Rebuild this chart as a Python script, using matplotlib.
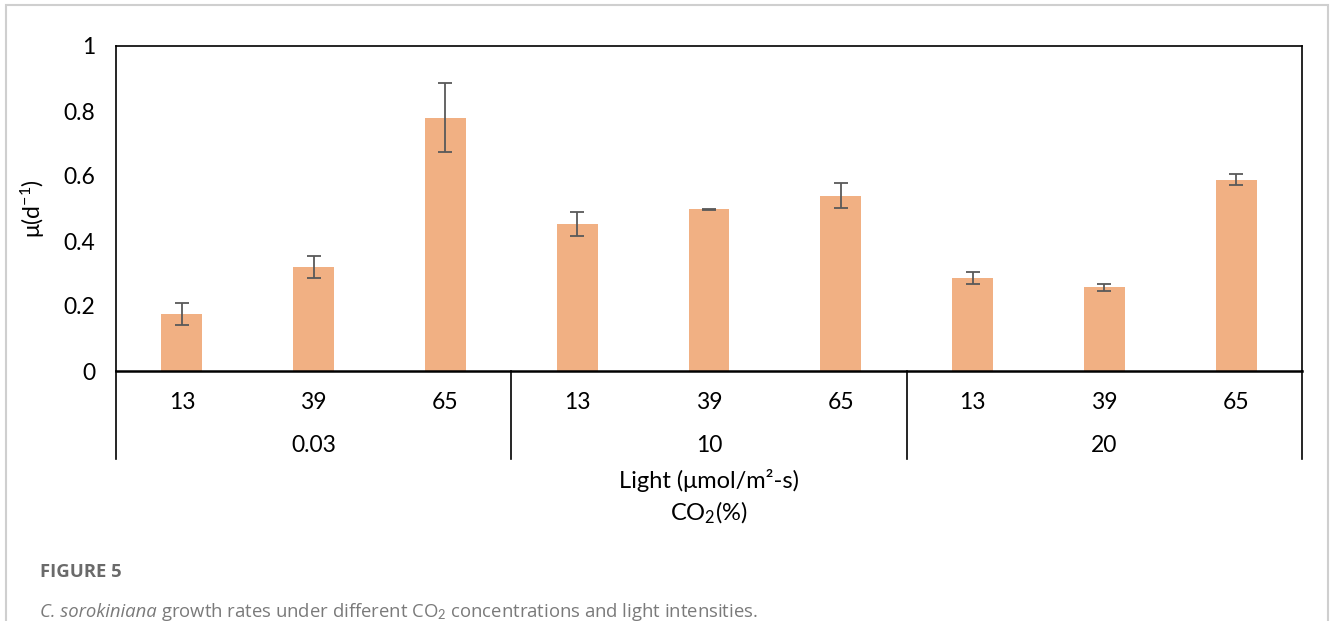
import matplotlib
matplotlib.use('Agg')
import matplotlib.pyplot as plt
import matplotlib.transforms as mtransforms
from matplotlib.patches import Rectangle

# data
co2_groups = ['0.03', '10', '20']
light_levels = ['13', '39', '65']
growth = [0.176, 0.320, 0.780,
          0.452, 0.497, 0.540,
          0.286, 0.257, 0.589]
errors = [0.033, 0.035, 0.107,
          0.037, 0.001, 0.038,
          0.018, 0.010, 0.018]

plt.rcParams['font.family'] = ['Lato', 'DejaVu Sans']
plt.rcParams['mathtext.fontset'] = 'custom'
plt.rcParams['mathtext.rm'] = 'Lato'
plt.rcParams['mathtext.it'] = 'Lato:italic'

W, H = 1330, 621
FS = 16.5
fig = plt.figure(figsize=(W / 100, H / 100), dpi=100)
ax = fig.add_axes([116 / W, 1 - 371 / H, 1186 / W, 325 / H])

x = list(range(len(growth)))
ax.bar(x, growth, width=0.31, color='#F1B083', zorder=2)
ax.errorbar(x, growth, yerr=errors, fmt='none', ecolor='#595959',
            elinewidth=1.3, capsize=5, capthick=1.3, zorder=3)

ax.set_xlim(-0.5, len(growth) - 0.5)
ax.set_ylim(0, 1)
ax.set_yticks([0, 0.2, 0.4, 0.6, 0.8, 1])
ax.set_yticklabels(['0', '0.2', '0.4', '0.6', '0.8', '1'])
ax.tick_params(axis='y', length=0, pad=15, labelsize=FS)
ax.set_xticks(x)
ax.set_xticklabels(light_levels * len(co2_groups))
ax.tick_params(axis='x', length=0, pad=15, labelsize=FS)
for s in ax.spines.values():
    s.set_color('black')
    s.set_linewidth(1.2)
ax.spines['bottom'].set_linewidth(1.8)

ax.set_ylabel(r'μ(d$^{\mathregular{-1}}$)', fontsize=FS, labelpad=12)

# second level of category labels and separators
trans = mtransforms.blended_transform_factory(ax.transData, ax.transAxes)
drop = -(459 - 371) / 325
n = len(light_levels)
for i, g in enumerate(co2_groups):
    ax.text(i * n + (n - 1) / 2, -(445 - 371) / 325, g, transform=trans,
            ha='center', va='center', fontsize=FS)
for i in range(len(co2_groups) + 1):
    ax.plot([i * n - 0.5, i * n - 0.5], [0, drop], transform=trans,
            color='black', lw=1.2, clip_on=False)

fig.text(709 / W, 1 - 480 / H, 'Light (μmol/m²-s)', ha='center', va='center',
         fontsize=17)
fig.text(709 / W, 1 - 513 / H, r'CO$_2$(%)', ha='center', va='center',
         fontsize=17)

# caption
fig.text(40 / W, 1 - 572 / H, 'FIGURE 5', ha='left', va='center',
         fontsize=13.3, fontweight='bold', color='#6a6a6a', family='Open Sans')
cap1 = fig.text(40 / W, 1 - 612 / H, 'C. sorokiniana', ha='left', va='center',
                fontsize=13.3, style='italic', color='#7a7a7a', family='Open Sans')
fig.canvas.draw()
bb = cap1.get_window_extent()
fig.text(bb.x1 / W + 4 / W, 1 - 612 / H,
         r'growth rates under different CO$_2$ concentrations and light intensities.',
         ha='left', va='center', fontsize=13.3, color='#7a7a7a', family='Open Sans')

# light frame around the whole figure
fig.patches.append(Rectangle((6 / W, -0.05), 1322 / W, 1.05 - 5 / H,
                             transform=fig.transFigure, fill=False,
                             edgecolor='#cfcfcf', lw=1.5))

fig.savefig('out.png', dpi=100)
